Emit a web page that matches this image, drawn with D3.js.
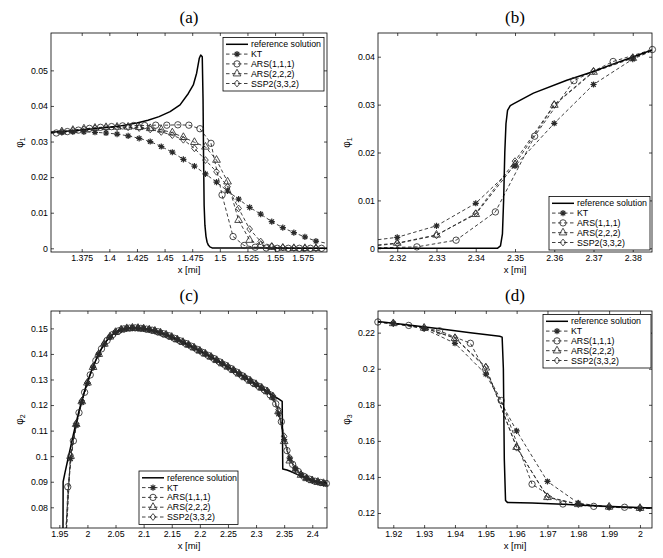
<!DOCTYPE html>
<html>
<head>
<meta charset="utf-8">
<script src="https://cdn.jsdelivr.net/npm/d3@7"></script>
<style>
  body { margin: 0; background: #fff; }
  svg { font-family: "Liberation Sans", Arial, sans-serif; }
</style>
</head>
<body>
<svg id="chart" width="663" height="558"></svg>
<script>
// legend entries, in legend order
const seriesNames = ['reference solution', 'KT', 'ARS(1,1,1)', 'ARS(2,2,2)', 'SSP2(3,3,2)'];

// ---------- panel (a) : phi_1 around the front ----------
const aXTicks = [1.375, 1.4, 1.425, 1.45, 1.475, 1.5, 1.525, 1.55, 1.575];
const aYTicks = [0, 0.01, 0.02, 0.03, 0.04, 0.05];
const aRefX = [1.347, 1.37, 1.39, 1.41, 1.425, 1.435, 1.445, 1.455, 1.464, 1.4715, 1.476, 1.479, 1.4814, 1.4827, 1.4841, 1.4848, 1.4853, 1.4858, 1.4865, 1.4875, 1.4885, 1.4896, 1.491, 1.493, 1.597];
const aRefY = [0.0326, 0.0331, 0.0337, 0.0344, 0.0352, 0.0360, 0.0370, 0.0384, 0.0403, 0.0435, 0.0459, 0.0492, 0.0534, 0.0543, 0.0538, 0.0420, 0.0250, 0.0120, 0.0065, 0.0033, 0.0017, 0.0009, 0.0004, 0.0001, 0];
const aGridX = [1.357, 1.367, 1.377, 1.387, 1.397, 1.407, 1.417, 1.427, 1.437, 1.447, 1.457, 1.467, 1.477, 1.487, 1.497, 1.507, 1.517, 1.527, 1.537, 1.547, 1.557, 1.567, 1.577, 1.587];
const aKT     = [0.0326, 0.0327, 0.0327, 0.0326, 0.0324, 0.0321, 0.0316, 0.0309, 0.0300, 0.0286, 0.0270, 0.0250, 0.0231, 0.0209, 0.0186, 0.0161, 0.0138, 0.0115, 0.0096, 0.0075, 0.0058, 0.0044, 0.0032, 0.0020];
const aARS222 = [0.0328, 0.0332, 0.0336, 0.0338, 0.0340, 0.0341, 0.0341, 0.0340, 0.0337, 0.0333, 0.0325, 0.0312, 0.0298, 0.0285, 0.0248, 0.0187, 0.0079, 0.0023, 0.0009, 0.0003, 0.0001, 0, 0, 0];
const aSSP2   = [0.0327, 0.0331, 0.0334, 0.0337, 0.0339, 0.0340, 0.0340, 0.0338, 0.0334, 0.0327, 0.0318, 0.0305, 0.0281, 0.0248, 0.0215, 0.0173, 0.0112, 0.0054, 0.0019, 0.0006, 0.0002, 0.0001, 0, 0];
const aCircX  = [1.352, 1.362, 1.372, 1.382, 1.392, 1.402, 1.412, 1.422, 1.432, 1.442, 1.452, 1.462, 1.472, 1.482, 1.492, 1.502, 1.512, 1.522, 1.532, 1.542, 1.552, 1.562, 1.572, 1.582, 1.592];
const aARS111 = [0.0324, 0.0328, 0.0332, 0.0337, 0.0340, 0.0342, 0.0344, 0.0345, 0.0345, 0.0346, 0.0346, 0.0347, 0.0346, 0.0336, 0.0295, 0.0150, 0.0033, 0.0008, 0.0003, 0.0001, 0, 0, 0, 0, 0];
// line continuation to the axis edges (no markers there)
const aEdgeX = [1.3472, 1.597];
const aKTEdge = [0.0326, 0.0014];
const aARS111Edge = [0.0323, 0];
const aARS222Edge = [0.0326, 0];
const aSSP2Edge = [0.0326, 0];

// ---------- panel (b) : phi_1, second front ----------
const bXTicks = [2.32, 2.33, 2.34, 2.35, 2.36, 2.37, 2.38];
const bYTicks = [0, 0.01, 0.02, 0.03, 0.04];
const bRefX = [2.3151, 2.3455, 2.3463, 2.3468, 2.3471, 2.3474, 2.3477, 2.3481, 2.3488, 2.3497, 2.3547, 2.3632, 2.37, 2.3751, 2.3802, 2.3849];
const bRefY = [0, 0, 0.0005, 0.003, 0.010, 0.020, 0.026, 0.0288, 0.0298, 0.0302, 0.0324, 0.0351, 0.0369, 0.0385, 0.0400, 0.0414];
const bGridX = [2.32, 2.33, 2.34, 2.35, 2.36, 2.37, 2.38];
const bKT     = [0.0023, 0.0047, 0.0094, 0.0172, 0.0261, 0.0342, 0.0395];
const bARS222 = [0.0011, 0.0028, 0.0071, 0.0175, 0.0299, 0.0368, 0.0397];
const bSSP2   = [0.0010, 0.0027, 0.0073, 0.0182, 0.0300, 0.0370, 0.0398];
const bCircX  = [2.325, 2.335, 2.345, 2.355, 2.365, 2.375, 2.385];
const bARS111 = [0.0003, 0.0017, 0.0076, 0.0234, 0.0350, 0.0390, 0.0415];
const bEdgeX = [2.3151, 2.3849];
const bKTEdge = [0.0018, 0.0412];
const bARS111Edge = [0.0001, null];
const bARS222Edge = [0.0007, 0.0413];
const bSSP2Edge = [0.0006, 0.0413];

// ---------- panel (c) : phi_2 ----------
const cXTicks = [1.95, 2, 2.05, 2.1, 2.15, 2.2, 2.25, 2.3, 2.35, 2.4];
const cYTicks = [0.08, 0.09, 0.1, 0.11, 0.12, 0.13, 0.14, 0.15];
const cRefX = [1.9565, 1.9568, 1.960, 1.965, 1.970, 1.975, 1.980, 1.985, 1.990, 1.995, 2.000, 2.010, 2.020, 2.030, 2.040, 2.050, 2.060, 2.070, 2.080, 2.090, 2.100, 2.120, 2.140, 2.160, 2.180, 2.200, 2.220, 2.240, 2.260, 2.280, 2.300, 2.320, 2.340, 2.3465, 2.3475, 2.355, 2.362, 2.370, 2.380, 2.390, 2.400, 2.410, 2.420, 2.4262];
const cRefY = [0.0700, 0.0900, 0.0935, 0.0985, 0.1035, 0.1085, 0.1132, 0.1177, 0.1218, 0.1256, 0.1291, 0.1352, 0.1401, 0.1440, 0.1467, 0.1485, 0.1495, 0.1500, 0.1502, 0.1501, 0.1499, 0.1490, 0.1475, 0.1456, 0.1435, 0.1412, 0.1388, 0.1362, 0.1336, 0.1308, 0.1280, 0.1252, 0.1224, 0.1214, 0.0950, 0.0946, 0.0940, 0.0932, 0.0922, 0.0913, 0.0905, 0.0899, 0.0894, 0.0892];
const cGridX = [1.96, 1.97, 1.98, 1.99, 2.00, 2.01, 2.02, 2.03, 2.04, 2.05, 2.06, 2.07, 2.08, 2.09, 2.10, 2.11, 2.12, 2.13, 2.14, 2.15, 2.16, 2.17, 2.18, 2.19, 2.20, 2.21, 2.22, 2.23, 2.24, 2.25, 2.26, 2.27, 2.28, 2.29, 2.30, 2.31, 2.32, 2.33, 2.34, 2.35, 2.36, 2.37, 2.38, 2.39, 2.40, 2.41, 2.42];
const cKT     = [0.060, 0.0990, 0.1120, 0.1210, 0.1285, 0.1347, 0.1398, 0.1438, 0.1466, 0.1484, 0.1495, 0.1500, 0.1502, 0.1501, 0.1499, 0.1495, 0.1490, 0.1483, 0.1475, 0.1466, 0.1456, 0.1446, 0.1435, 0.1424, 0.1412, 0.1400, 0.1388, 0.1375, 0.1362, 0.1349, 0.1336, 0.1322, 0.1308, 0.1294, 0.1280, 0.1266, 0.1252, 0.1228, 0.1165, 0.1065, 0.0990, 0.0950, 0.0928, 0.0914, 0.0905, 0.0899, 0.0894];
const cARS222 = [0.064, 0.1000, 0.1125, 0.1214, 0.1287, 0.1348, 0.1399, 0.1439, 0.1467, 0.1485, 0.1495, 0.1500, 0.1502, 0.1501, 0.1499, 0.1495, 0.1490, 0.1483, 0.1475, 0.1466, 0.1456, 0.1446, 0.1435, 0.1424, 0.1412, 0.1400, 0.1388, 0.1375, 0.1362, 0.1349, 0.1336, 0.1322, 0.1308, 0.1294, 0.1281, 0.1267, 0.1253, 0.1232, 0.1175, 0.1058, 0.0982, 0.0946, 0.0926, 0.0913, 0.0905, 0.0899, 0.0894];
const cSSP2   = [0.066, 0.1004, 0.1128, 0.1216, 0.1288, 0.1349, 0.1400, 0.1439, 0.1467, 0.1485, 0.1495, 0.1500, 0.1502, 0.1501, 0.1499, 0.1495, 0.1490, 0.1483, 0.1475, 0.1466, 0.1456, 0.1446, 0.1435, 0.1424, 0.1412, 0.1400, 0.1388, 0.1375, 0.1362, 0.1349, 0.1336, 0.1322, 0.1308, 0.1294, 0.1281, 0.1267, 0.1254, 0.1236, 0.1182, 0.1078, 0.0994, 0.0953, 0.0929, 0.0914, 0.0905, 0.0899, 0.0894];
const cCircX  = [1.965, 1.975, 1.985, 1.995, 2.005, 2.015, 2.025, 2.035, 2.045, 2.055, 2.065, 2.075, 2.085, 2.095, 2.105, 2.115, 2.125, 2.135, 2.145, 2.155, 2.165, 2.175, 2.185, 2.195, 2.205, 2.215, 2.225, 2.235, 2.245, 2.255, 2.265, 2.275, 2.285, 2.295, 2.305, 2.315, 2.325, 2.335, 2.345, 2.355, 2.365, 2.375, 2.385, 2.395, 2.405, 2.415, 2.425];
const cARS111 = [0.0880, 0.1060, 0.1170, 0.1250, 0.1318, 0.1374, 0.1420, 0.1453, 0.1476, 0.1490, 0.1498, 0.1501, 0.1502, 0.1500, 0.1497, 0.1493, 0.1487, 0.1479, 0.1471, 0.1461, 0.1451, 0.1441, 0.1430, 0.1418, 0.1406, 0.1394, 0.1382, 0.1369, 0.1356, 0.1343, 0.1329, 0.1315, 0.1301, 0.1287, 0.1273, 0.1259, 0.1240, 0.1205, 0.1135, 0.1022, 0.0968, 0.0940, 0.0921, 0.0910, 0.0902, 0.0897, 0.0893];
const cEdgeX = [1.961, 2.4262];
const cKTEdge = [null, 0.0893];
const cARS111Edge = [0.060, 0.0893];
const cARS222Edge = [null, 0.0893];
const cSSP2Edge = [null, 0.0893];

// ---------- panel (d) : phi_3 ----------
const dXTicks = [1.92, 1.93, 1.94, 1.95, 1.96, 1.97, 1.98, 1.99, 2];
const dYTicks = [0.12, 0.14, 0.16, 0.18, 0.2, 0.22];
const dRefX = [1.915, 1.925, 1.935, 1.945, 1.9545, 1.9553, 1.9557, 1.9560, 1.9564, 1.9570, 1.965, 1.975, 1.985, 1.995, 2.0039];
const dRefY = [0.2262, 0.2243, 0.2222, 0.2200, 0.2180, 0.2175, 0.2000, 0.1500, 0.1270, 0.1259, 0.1255, 0.1249, 0.1241, 0.1233, 0.1228];
const dGridX = [1.92, 1.93, 1.94, 1.95, 1.96, 1.97, 1.98, 1.99, 2.00];
const dKT     = [0.2251, 0.2222, 0.2141, 0.1970, 0.1655, 0.1375, 0.1255, 0.1232, 0.1226];
const dARS222 = [0.2251, 0.2226, 0.2169, 0.2005, 0.1565, 0.1287, 0.1248, 0.1234, 0.1227];
const dSSP2   = [0.2252, 0.2226, 0.2172, 0.2010, 0.1562, 0.1290, 0.1249, 0.1234, 0.1227];
const dCircX  = [1.915, 1.925, 1.935, 1.945, 1.955, 1.965, 1.975, 1.985, 1.995];
const dARS111 = [0.2259, 0.2240, 0.2210, 0.2141, 0.1824, 0.1360, 0.1250, 0.1237, 0.1232];
const dEdgeX = [1.915, 2.0039];
const dKTEdge = [0.2258, 0.1225];
const dARS111Edge = [null, 0.1229];
const dARS222Edge = [0.2258, 0.1226];
const dSSP2Edge = [0.2258, 0.1226];

// marker shapes (MATLAB style: *, o, ^, d)
const starSym = {
  draw(ctx, size) {
    const r = Math.sqrt(size) / 2, q = r * 0.72;
    ctx.moveTo(-r, 0); ctx.lineTo(r, 0);
    ctx.moveTo(0, -r); ctx.lineTo(0, r);
    ctx.moveTo(-q, -q); ctx.lineTo(q, q);
    ctx.moveTo(-q, q); ctx.lineTo(q, -q);
  }
};
const diamondSym = {
  draw(ctx, size) {
    const w = Math.sqrt(size) / 2, h = w * 1.2;
    ctx.moveTo(0, -h); ctx.lineTo(w, 0); ctx.lineTo(0, h); ctx.lineTo(-w, 0); ctx.closePath();
  }
};
const markers = [
  { type: starSym, size: 38, sw: 1.2 },
  { type: d3.symbolCircle, size: 32, sw: 0.85 },
  { type: d3.symbolTriangle, size: 26, sw: 0.85 },
  { type: diamondSym, size: 32, sw: 0.85 }
];

const panels = [
  { title: '(a)', sub: '1', box: [51, 33, 327, 252], xDomain: [1.3472, 1.597], yDomain: [-0.00104, 0.0605],
    xTicks: aXTicks, yTicks: aYTicks, legend: [223, 37.5, 101],
    ref: [aRefX, aRefY], edgeX: aEdgeX,
    series: [[aGridX, aKT, aKTEdge], [aCircX, aARS111, aARS111Edge], [aGridX, aARS222, aARS222Edge], [aGridX, aSSP2, aSSP2Edge]] },
  { title: '(b)', sub: '1', box: [378, 33, 652, 252], xDomain: [2.3151, 2.3849], yDomain: [-0.00077, 0.04495],
    xTicks: bXTicks, yTicks: bYTicks, legend: [549, 196.5, 101],
    ref: [bRefX, bRefY], edgeX: bEdgeX,
    series: [[bGridX, bKT, bKTEdge], [bCircX, bARS111, bARS111Edge], [bGridX, bARS222, bARS222Edge], [bGridX, bSSP2, bSSP2Edge]] },
  { title: '(c)', sub: '2', box: [51, 311, 327, 528], xDomain: [1.9352, 2.4262], yDomain: [0.0719, 0.1568],
    xTicks: cXTicks, yTicks: cYTicks, legend: [139, 471, 99],
    ref: [cRefX, cRefY], edgeX: cEdgeX,
    series: [[cGridX, cKT, cKTEdge], [cCircX, cARS111, cARS111Edge], [cGridX, cARS222, cARS222Edge], [cGridX, cSSP2, cSSP2Edge]] },
  { title: '(d)', sub: '3', box: [378, 311, 652, 528], xDomain: [1.91504, 2.0039], yDomain: [0.1117, 0.232],
    xTicks: dXTicks, yTicks: dYTicks, legend: [543, 314.5, 108],
    ref: [dRefX, dRefY], edgeX: dEdgeX,
    series: [[dGridX, dKT, dKTEdge], [dCircX, dARS111, dARS111Edge], [dGridX, dARS222, dARS222Edge], [dGridX, dSSP2, dSSP2Edge]] }
];

const svg = d3.select('#chart');
const fmt = d => String(+d.toFixed(4));
const DASH = '3.5,2.5';
const INK = '#2a2a2a';

function drawPanel(p, idx) {
  const [x0, y0, x1, y1] = p.box;
  const x = d3.scaleLinear().domain(p.xDomain).range([x0, x1]);
  const y = d3.scaleLinear().domain(p.yDomain).range([y1, y0]);
  const g = svg.append('g');

  const clipId = 'clip' + idx;
  g.append('clipPath').attr('id', clipId)
    .append('rect').attr('x', x0).attr('y', y0).attr('width', x1 - x0).attr('height', y1 - y0);

  const line = d3.line().x(d => x(d[0])).y(d => y(d[1]));
  const plot = g.append('g').attr('clip-path', `url(#${clipId})`);

  // numerical solutions (dashed + markers)
  p.series.forEach((s, i) => {
    const [xs, ys, edge] = s;
    const pts = xs.map((v, k) => [v, ys[k]]);
    const linePts = pts.slice();
    if (edge[0] != null) linePts.unshift([p.edgeX[0], edge[0]]);
    if (edge[1] != null) linePts.push([p.edgeX[1], edge[1]]);
    plot.append('path').datum(linePts)
      .attr('d', line).attr('fill', 'none')
      .attr('stroke', INK).attr('stroke-width', 0.9).attr('stroke-dasharray', DASH);

    const m = markers[i];
    const inside = pts.filter(d => d[1] >= p.yDomain[0] && d[1] <= p.yDomain[1] &&
      d[0] >= p.xDomain[0] - 1e-4 && d[0] <= p.xDomain[1] + 1e-3);
    g.selectAll(null).data(inside).enter().append('path')
      .attr('transform', d => `translate(${x(d[0])},${y(d[1])})`)
      .attr('d', d3.symbol().type(m.type).size(m.size))
      .attr('fill', 'none').attr('stroke', INK).attr('stroke-width', m.sw);
  });

  // reference solution
  const refPts = p.ref[0].map((v, k) => [v, p.ref[1][k]]);
  plot.append('path').datum(refPts)
    .attr('d', line).attr('fill', 'none')
    .attr('stroke', '#000').attr('stroke-width', 1.5).attr('stroke-linejoin', 'round');

  // axes with inward ticks on all four sides
  const tick = 3;
  const styleAxis = sel => {
    sel.select('.domain').remove();
    sel.selectAll('line').attr('stroke', '#000').attr('stroke-width', 0.7);
    sel.selectAll('text').attr('fill', '#000').style('font-size', '8.8px')
      .style('font-family', '"Liberation Sans", Arial, sans-serif');
  };
  g.append('g').attr('transform', `translate(0,${y1})`)
    .call(d3.axisBottom(x).tickValues(p.xTicks).tickFormat(fmt).tickSizeInner(-tick).tickSizeOuter(0).tickPadding(3))
    .call(styleAxis);
  g.append('g').attr('transform', `translate(0,${y0})`)
    .call(d3.axisTop(x).tickValues(p.xTicks).tickFormat('').tickSizeInner(-tick).tickSizeOuter(0))
    .call(styleAxis);
  g.append('g').attr('transform', `translate(${x0},0)`)
    .call(d3.axisLeft(y).tickValues(p.yTicks).tickFormat(fmt).tickSizeInner(-tick).tickSizeOuter(0).tickPadding(3))
    .call(styleAxis);
  g.append('g').attr('transform', `translate(${x1},0)`)
    .call(d3.axisRight(y).tickValues(p.yTicks).tickFormat('').tickSizeInner(-tick).tickSizeOuter(0))
    .call(styleAxis);

  g.append('rect').attr('x', x0).attr('y', y0).attr('width', x1 - x0).attr('height', y1 - y0)
    .attr('fill', 'none').attr('stroke', '#000').attr('stroke-width', 0.8);

  // title, axis labels
  const cx = (x0 + x1) / 2;
  g.append('text').attr('x', cx).attr('y', y0 - 10).attr('text-anchor', 'middle')
    .style('font-family', '"Liberation Serif", "DejaVu Serif", serif').style('font-size', '17px')
    .text(p.title);
  g.append('text').attr('x', cx).attr('y', y1 + 20.5).attr('text-anchor', 'middle')
    .style('font-size', '9.5px').text('x [mi]');
  const yl = g.append('text')
    .attr('transform', `translate(${x0 - 28},${(y0 + y1) / 2}) rotate(-90)`)
    .attr('text-anchor', 'middle').style('font-size', '10px');
  yl.append('tspan').text('φ');
  yl.append('tspan').attr('dy', 2).style('font-size', '7px').text(p.sub);

  // legend
  const [lx, ly, lw] = p.legend;
  const rowH = 9.8, lh = 53.5;
  const lg = g.append('g');
  lg.append('rect').attr('x', lx).attr('y', ly).attr('width', lw).attr('height', lh)
    .attr('fill', '#fff').attr('stroke', '#000').attr('stroke-width', 0.8);
  seriesNames.forEach((name, i) => {
    const ry = ly + 6.8 + i * rowH;
    const sx0 = lx + 3, sx1 = lx + 25;
    lg.append('line').attr('x1', sx0).attr('x2', sx1).attr('y1', ry).attr('y2', ry)
      .attr('stroke', i === 0 ? '#000' : INK)
      .attr('stroke-width', i === 0 ? 1.5 : 0.9)
      .attr('stroke-dasharray', i === 0 ? null : DASH);
    if (i > 0) {
      const m = markers[i - 1];
      lg.append('path').attr('transform', `translate(${(sx0 + sx1) / 2},${ry})`)
        .attr('d', d3.symbol().type(m.type).size(m.size))
        .attr('fill', 'none').attr('stroke', INK).attr('stroke-width', m.sw);
    }
    lg.append('text').attr('x', sx1 + 3).attr('y', ry).attr('dy', '0.35em')
      .style('font-size', '8.8px').text(name);
  });
}

panels.forEach(drawPanel);
</script>
</body>
</html>
